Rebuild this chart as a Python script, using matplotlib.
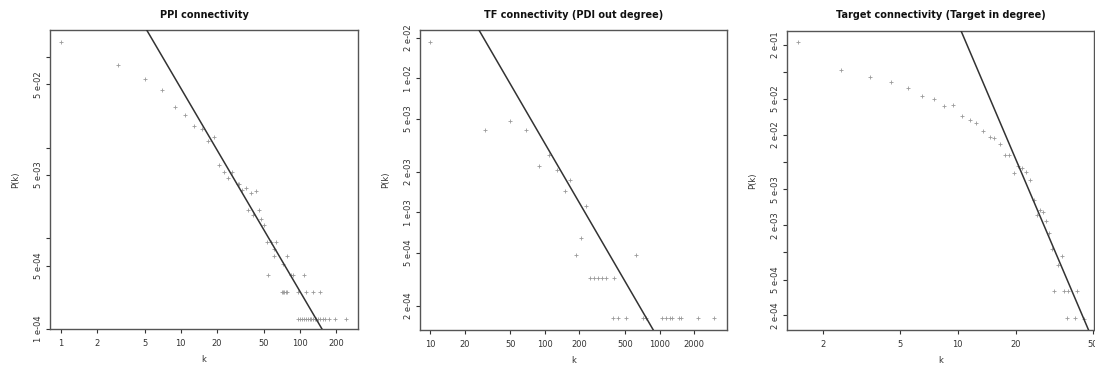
import numpy as np
import matplotlib
matplotlib.use("Agg")
import matplotlib.pyplot as plt

# ---- PPI connectivity ----
ppi_k = [1, 3, 5, 7, 9, 11, 13, 15, 17, 19, 21, 23, 25, 27, 30, 31, 32.5, 35,
         39, 43, 37, 40.6, 45, 47, 50, 52.6, 56.9, 63, 60, 60.6, 77, 54, 72,
         84.6, 88, 107,
         70, 72, 74, 76, 78, 95.7, 112, 129, 147,
         96, 100, 104, 108, 112, 116, 120, 124, 128, 132, 137, 142, 148, 155,
         162, 174, 194, 243]
ppi_p = [0.148, 0.082, 0.057, 0.043, 0.0283, 0.0227, 0.0175, 0.0159, 0.0118,
         0.0130, 0.0064, 0.00533, 0.00469, 0.0054, 0.00396, 0.00396, 0.0034,
         0.00364, 0.00313, 0.00337, 0.00208, 0.0018, 0.00208, 0.00164, 0.00142,
         0.000912, 0.000912, 0.000912, 0.00077, 0.000638, 0.000638, 0.00039,
         0.000526, 0.00039, 0.00039, 0.00039,
         0.000255, 0.000255, 0.000255, 0.000255, 0.000255, 0.000255, 0.000255,
         0.000255, 0.000255] + [0.000129] * 18
ppi_fit = (8.17, -2.25)

# ---- TF connectivity (PDI out degree) ----
tf_k = [10, 30, 50, 69, 89, 109, 128, 166, 149, 227, 206, 187, 622,
        246, 267, 289, 313, 339, 401,
        393, 434, 513, 716, 755, 1040, 1127, 1222, 1271, 1472, 1543, 2168, 2951]
tf_p = [0.01875, 0.00411, 0.00478, 0.00411, 0.00222, 0.00268, 0.00206,
        0.00174, 0.00143, 0.00112, 0.00064, 0.00048, 0.00048] + \
       [0.00032] * 6 + [0.000161] * 13
tf_fit = (2.92, -1.476)

# ---- Target connectivity (Target in degree) ----
tg_k = [1.5, 2.5, 3.5, 4.5, 5.5, 6.5, 7.5, 8.5, 9.5, 10.5, 11.5, 12.4, 13.5,
        14.6, 15.4, 16.5, 17.5, 18.4, 19.6, 20.5, 21.5, 22.5, 23.5, 24.7,
        25.6, 26.6, 27.7, 28.5, 29.5, 30.7, 32.8, 34.7, 31.5, 35.5, 37.2, 41.5,
        36.6, 40.5, 44.8]
tg_p = [0.215, 0.104, 0.0889, 0.0769, 0.0655, 0.0538, 0.0499, 0.0417, 0.0425,
        0.0326, 0.029, 0.0272, 0.0222, 0.0192, 0.0183, 0.0158, 0.0120, 0.0120,
        0.00762, 0.0091, 0.00865, 0.00782, 0.00637, 0.00379, 0.00257, 0.00294,
        0.00277, 0.00222, 0.00166, 0.0011, 0.00073, 0.00091, 0.00037, 0.00037,
        0.00037, 0.00037, 0.000186, 0.000186, 0.000182]
tg_fit = (3.715e4, -5.03)

titles = ["PPI connectivity", "TF connectivity (PDI out degree)",
          "Target connectivity (Target in degree)"]

ppi_xticks = [1, 2, 5, 10, 20, 50, 100, 200]
ppi_yticks = [1e-4, 5e-4, 1e-3, 5e-3, 1e-2, 5e-2, 1e-1]
ppi_ylabels = ["1 e-04", "5 e-04", "", "5 e-03", "", "5 e-02", ""]

tf_xticks = [10, 20, 50, 100, 200, 500, 1000, 2000]
tf_yticks = [2e-4, 5e-4, 1e-3, 2e-3, 5e-3, 1e-2, 2e-2]
tf_ylabels = ["2 e-04", "5 e-04", "1 e-03", "2 e-03", "5 e-03", "1 e-02", "2 e-02"]

tg_xticks = [2, 5, 10, 20, 50]
tg_yticks = [2e-4, 5e-4, 1e-3, 2e-3, 5e-3, 1e-2, 2e-2, 5e-2, 1e-1, 2e-1]
tg_ylabels = ["2 e-04", "5 e-04", "", "2 e-03", "5 e-03", "", "2 e-02",
              "5 e-02", "", "2 e-01"]

W, H = 1095, 369
fig = plt.figure(figsize=(W / 100, H / 100), dpi=100)
fig.patch.set_facecolor("white")

# axes boxes in pixels: left, top, right, bottom
boxes = [(50, 30, 358, 329), (420, 30, 727, 330), (787, 31, 1094, 330)]
limits = [((0.81, 305), (1e-4, 0.199)),
          ((8.2, 3845), (1.32e-4, 0.0229)),
          ((1.31, 50.6), (1.38e-4, 0.284))]

panels = [(ppi_k, ppi_p, ppi_fit, ppi_xticks, ppi_yticks, ppi_ylabels),
          (tf_k, tf_p, tf_fit, tf_xticks, tf_yticks, tf_ylabels),
          (tg_k, tg_p, tg_fit, tg_xticks, tg_yticks, tg_ylabels)]

txt = "#333333"
for i, (k, p, fit, xt, yt, yl) in enumerate(panels):
    l, t, r, b = boxes[i]
    ax = fig.add_axes([l / W, 1 - b / H, (r - l) / W, (b - t) / H])
    ax.set_xscale("log")
    ax.set_yscale("log")
    (x0, x1), (y0, y1) = limits[i]
    ax.set_xlim(x0, x1)
    ax.set_ylim(y0, y1)

    ax.scatter(k, p, marker="+", s=9, c="#9a9a9a", linewidths=0.6, zorder=2)

    kk = np.logspace(np.log10(x0) - 1, np.log10(x1) + 1, 50)
    ax.plot(kk, fit[0] * kk ** fit[1], color="#333333", lw=1.1, zorder=3)

    ax.set_xticks(xt)
    ax.set_xticklabels([str(v) for v in xt])
    ax.set_yticks(yt)
    ax.set_yticklabels(yl, rotation=90, va="center")
    ax.minorticks_off()
    ax.tick_params(axis="both", direction="out", length=3, width=0.8,
                   labelsize=6, colors=txt, pad=2)
    ax.tick_params(axis="x", pad=4)
    for s in ax.spines.values():
        s.set_color("#555555")
        s.set_linewidth(1.0)

    ax.set_title(titles[i], fontsize=7, fontweight="bold", color="#111111",
                 pad=9)
    ax.set_xlabel("k", fontsize=6, color=txt, labelpad=5)
    ax.set_ylabel("P(k)", fontsize=6, color=txt, labelpad=10)

fig.savefig("out.png", dpi=100)
